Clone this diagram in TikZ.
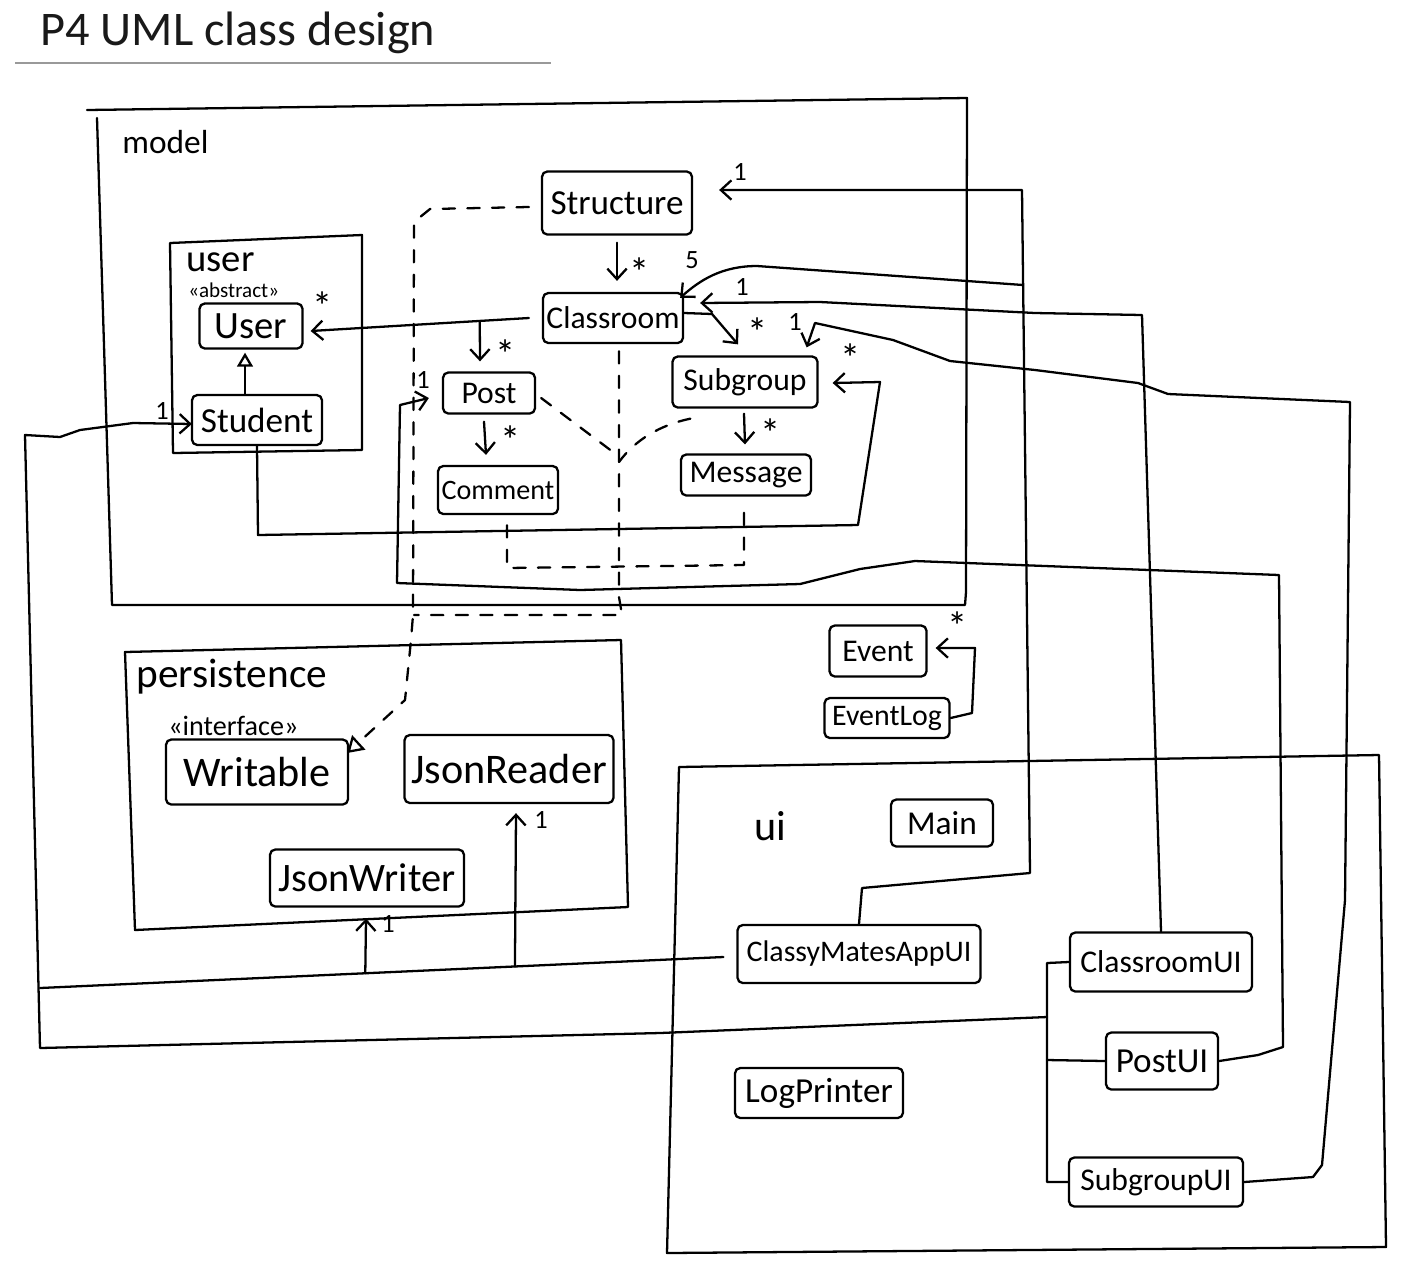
\documentclass[tikz,border=0pt]{standalone}
\usepackage{fontspec}
\setmainfont{Carlito}
\usetikzlibrary{arrows.meta,calc}
\begin{document}
\begin{tikzpicture}[x=0.02cm,y=-0.02cm,
  ln/.style={line width=1.3pt, line join=round, line cap=round},
  cls/.style={ln, draw, rounded corners=3pt, inner sep=1pt, align=center, font=\fontsize{#1}{#1}\selectfont},
  cls/.default=18,
  sz/.style 2 args={minimum width=#1*0.02cm, minimum height=#2*0.02cm},
  asc/.style={ln, -{Straight Barb[length=6pt,width=11pt,line width=1.3pt]}},
  dep/.style={ln, dash pattern=on 7pt off 7pt},
  mult/.style={inner sep=0pt, font=\fontsize{15}{15}\selectfont},
  star/.style={inner sep=0pt, font=\fontsize{23}{23}\selectfont},
  lbl/.style={anchor=base west, inner sep=0pt, font=\fontsize{#1}{#1}\selectfont},
]
\useasboundingbox (0,0) rectangle (1402,1262);
\fill[white] (0,0) rectangle (1402,1262);

% ---------- title ----------
\node[lbl=27.5, text=black!90] (title) at (40,45) {P4 UML class design};
\draw[black!40, line width=1pt] (15,63) -- (551,63);

% ---------- packages ----------
\draw[ln] (87,110) -- (967,98) -- (966,592) -- (965,605) -- (112,605) -- (97,118);
\node[lbl=19] (modellbl) at (122,153) {model};
\draw[ln] (170,243) -- (362,235) -- (362,450) -- (173,453) -- cycle;
\node[lbl=22] (userlbl) at (186,271) {user};
\node[lbl=12] (abstractlbl) at (188,297) {<<abstract>>};
\draw[ln] (125,652) -- (621,640) -- (628,907) -- (135,930) -- cycle;
\node[lbl=23.5] (perslbl) at (136,687) {persistence};
\node[lbl=16] (interfacelbl) at (168,735) {<<interface>>};
\draw[ln] (679,767) -- (1379,755) -- (1386,1247) -- (667,1253) -- cycle;
\node[lbl=24] (uilbl) at (754,840) {ui};

% ---------- classes ----------
\node[cls=20, sz={150}{63}] (structure) at (617,203) {Structure};
\node[cls=18, sz={140}{50}] (classroom) at (613,318) {Classroom};
\node[cls=22, sz={103}{45}] (user) at (251,326) {User};
\node[cls=20, sz={130}{50}] (student) at (257,420) {Student};
\node[cls=18, sz={92}{41}] (post) at (489,393) {Post};
\node[cls=16, sz={120}{48}] (comment) at (498,490) {Comment};
\node[cls=18, sz={145}{51}] (subgroup) at (745,382) {Subgroup};
\node[cls=18, sz={130}{41}] (message) at (746,475) {Message};
\node[cls=18, sz={97}{51}] (event) at (878,651) {Event};
\node[cls=17, sz={125}{40}] (eventlog) at (887,718) {EventLog};
\node[cls=24, sz={182}{65}] (writable) at (257,772) {Writable};
\node[cls=24, sz={209}{68}] (jsonreader) at (509,769) {JsonReader};
\node[cls=23, sz={194}{57}] (jsonwriter) at (367,878) {JsonWriter};
\node[cls=19, sz={102}{47}] (main) at (942,823) {Main};
\node[cls=17, sz={243}{58}] (cmui) at (859,954) {ClassyMatesAppUI};
\node[cls=18, sz={182}{59}] (clsui) at (1161,962) {ClassroomUI};
\node[cls=20, sz={112}{57}] (postui) at (1162,1061) {PostUI};
\node[cls=20, sz={168}{50}] (logprinter) at (819,1093) {LogPrinter};
\node[cls=18, sz={174}{49}] (sgui) at (1156,1182) {SubgroupUI};

% ---------- associations inside model ----------
\draw[asc] ($(structure.south)+(0,7)$) -- ($(classroom.north)+(4,-11)$);
\node[star] (s1) at (640,272) {*};

\coordinate (cu1) at ($(classroom.west)+(-13,0)$);
\coordinate (cu2) at ($(user.east)+(7,5)$);
\draw[asc] (cu1) -- (cu2);
\node[star] (s2) at (323,306) {*};
\draw[asc] ($(cu1)!0.225!(cu2)$) -- ($(post.north)+(-9,-10)$);
\node[star] (s3) at (506,354) {*};

\draw[asc] ($(classroom.east)+(0,-5)$) -- (712,314) -- ($(subgroup.north)+(-7,-11)$);
\node[star] (s4) at (758,332) {*};

\draw[asc] ($(post.south)+(-5,7)$) -- ($(comment.north)+(-12,-10)$);
\node[star] (s5) at (511,440) {*};
\draw[asc] ($(subgroup.south)+(-1,5)$) -- ($(message.north)+(-1,-9)$);
\node[star] (s6) at (771,433) {*};

\draw[ln, -{Triangle[open,length=8pt,width=9pt,line width=1.3pt]}]
  ($(student.north)+(-12,0)$) -- ($(user.south)+(-6,3)$);

% Student -> Subgroup
\draw[asc] (student.south) -- (258,535) -- (858,525) -- (880,382) -- ($(subgroup.east)+(14,1)$);
\node[star] (s7) at (851,358) {*};

% ---------- dependencies (dashed) ----------
\draw[dep, -{Triangle[open,length=9pt,width=11pt,line width=1.3pt]}]
  ($(structure.west)+(-12,4)$) -- (430,209) -- (414,222) -- (413,615) -- (411,640) -- (405,700) -- ($(writable.east)+(-2,-19)$);
\draw[dep] ($(classroom.south)+(6,7)$) -- (619,597) -- (622,615) -- (414,615);
\draw[dep] ($(post.east)+(5,5)$) -- (617,455);
\draw[dep] ($(subgroup.south west)+(19,10)$) .. controls (660,425) and (635,440) .. (619,462);
\draw[dep] ($(comment.south)+(9,10)$) -- (507,568) -- (744,565) -- ($(message.south)+(-2,9)$);

% ---------- Event log ----------
\draw[asc] (eventlog.east) -- (972,713) -- (975,648) -- ($(event.east)+(8,-3)$);
\node[star] (s8) at (958,626) {*};

% ---------- ui -> model ----------
% ClassyMatesAppUI -> Structure (1)
\draw[asc] (cmui.north) -- (862,888) -- (1030,873) -- (1022,190) -- ($(structure.east)+(26,-13)$);
\node[mult] (m1) at (740,172) {1};
% -> Classroom (5) from the same trunk
\draw[asc] (1023,285) -- (757,266) .. controls (722,266) and (700,280) .. ($(classroom.north east)+(-4,6)$);
\node[mult] (m2) at (692,260) {5};
% ClassroomUI -> Classroom (1)
\draw[asc] (clsui.north) -- (1142,315) -- (1035,313) -- (820,302) -- ($(classroom.east)+(16,-15)$);
\node[mult] (m3) at (742,287) {1};
% SubgroupUI -> Subgroup (1)
\draw[asc] (sgui.east) -- (1313,1177) -- (1322,1165) -- (1345,900) -- (1350,402) -- (1168,394)
  -- (1138,383) -- (1035,370) -- (950,361) -- (893,340) -- (815,323) -- ($(subgroup.north east)+(-12,-8)$);
\node[mult] (m4) at (795,322) {1};
% PostUI -> Post (1)
\draw[asc] (postui.east) -- (1258,1055) -- (1283,1047) -- (1279,575) -- (915,561) -- (860,569)
  -- (800,584) -- (580,590) -- (397,583) -- (400,405) -- ($(post.west)+(-13,5)$);
\node[mult] (m5) at (423,380) {1};

% ---------- ui trunk -> Student ----------
\draw[ln] (clsui.west) -- (1047,963) -- (1047,1182) -- (sgui.west);
\draw[ln] (1047,1060) -- (postui.west);
\draw[asc] (1047,1017) -- (660,1033) -- (40,1048) -- (25,435) -- (60,437) -- (80,430) -- (133,423) -- ($(student.west)+(1,4)$);
\node[mult] (m6) at (162,411) {1};

% ClassyMatesAppUI -> persistence / Student
\coordinate (cmL) at (40,988);
\coordinate (cmR) at ($(cmui.west)+(-13,3)$);
\draw[ln] (cmR) -- (cmL);
\draw[asc] ($(cmL)!0.476!(cmR)$) -- ($(jsonwriter.south)+(-1,11)$);
\node[mult] (m7) at (388,924) {1};
\draw[asc] ($(cmL)!0.695!(cmR)$) -- ($(jsonreader.south)+(7,9)$);
\node[mult] (m8) at (541,820) {1};

\end{tikzpicture}
\end{document}
